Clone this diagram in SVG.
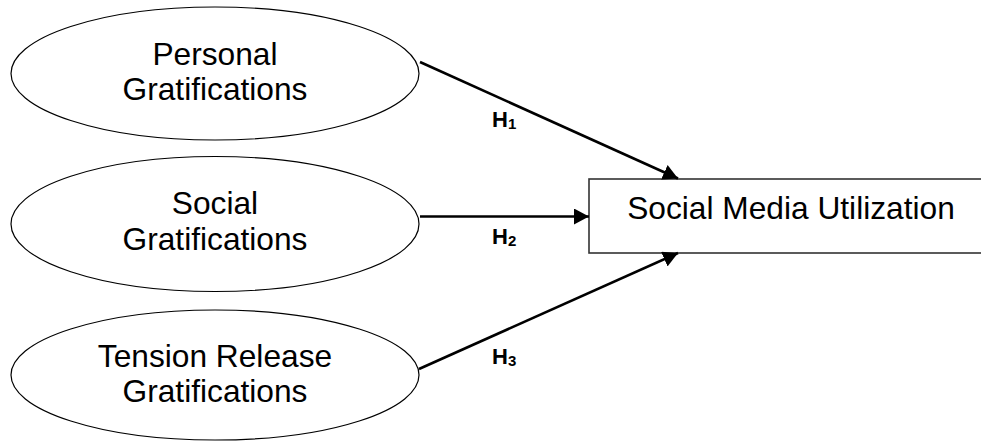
<svg xmlns="http://www.w3.org/2000/svg" width="981" height="441" viewBox="0 0 981 441">
<style>
.node ellipse{fill:#fff;stroke:#000;stroke-width:1.2}
.box{fill:#fff;stroke:#333;stroke-width:1.6}
.t{font-family:"Liberation Sans",Arial,sans-serif;font-size:31.7px;fill:#000;text-anchor:middle}
.h{font-family:"Liberation Sans",Arial,sans-serif;font-size:22px;font-weight:bold;fill:#000}
.sub{font-size:15px}
.conn line{stroke:#000;stroke-width:2.6;marker-end:url(#ah)}
</style>
<defs>
<marker id="ah" markerUnits="userSpaceOnUse" markerWidth="16" markerHeight="16" refX="15" refY="8" orient="auto" viewBox="0 0 16 16">
<path d="M0,0 L15,8 L0,16 Z" fill="#000"/>
</marker>
</defs>
<rect width="981" height="441" fill="#fff"/>
<g id="n1" class="node">
<ellipse cx="215" cy="73.5" rx="204" ry="66.5"/>
<text class="t" x="215" y="65">Personal</text>
<text class="t" x="215" y="100">Gratifications</text>
</g>
<g id="n2" class="node">
<ellipse cx="215" cy="224" rx="204" ry="67.5"/>
<text class="t" x="215" y="214">Social</text>
<text class="t" x="215" y="250">Gratifications</text>
</g>
<g id="n3" class="node">
<ellipse cx="215" cy="375" rx="204" ry="65"/>
<text class="t" x="215" y="367">Tension Release</text>
<text class="t" x="215" y="402">Gratifications</text>
</g>
<g id="n4">
<rect class="box" x="589" y="179" width="400" height="74"/>
<text class="t" x="791" y="219">Social Media Utilization</text>
</g>
<g id="connectors" class="conn">
<line x1="420" y1="62" x2="678" y2="178.5"/>
<line x1="420" y1="216.5" x2="589" y2="216.5"/>
<line x1="419" y1="369" x2="678" y2="253"/>
</g>
<g id="labels">
<text class="h" x="492" y="127">H<tspan class="sub" dy="2">1</tspan></text>
<text class="h" x="492" y="244">H<tspan class="sub" dy="2">2</tspan></text>
<text class="h" x="492" y="364">H<tspan class="sub" dy="2">3</tspan></text>
</g>
</svg>
